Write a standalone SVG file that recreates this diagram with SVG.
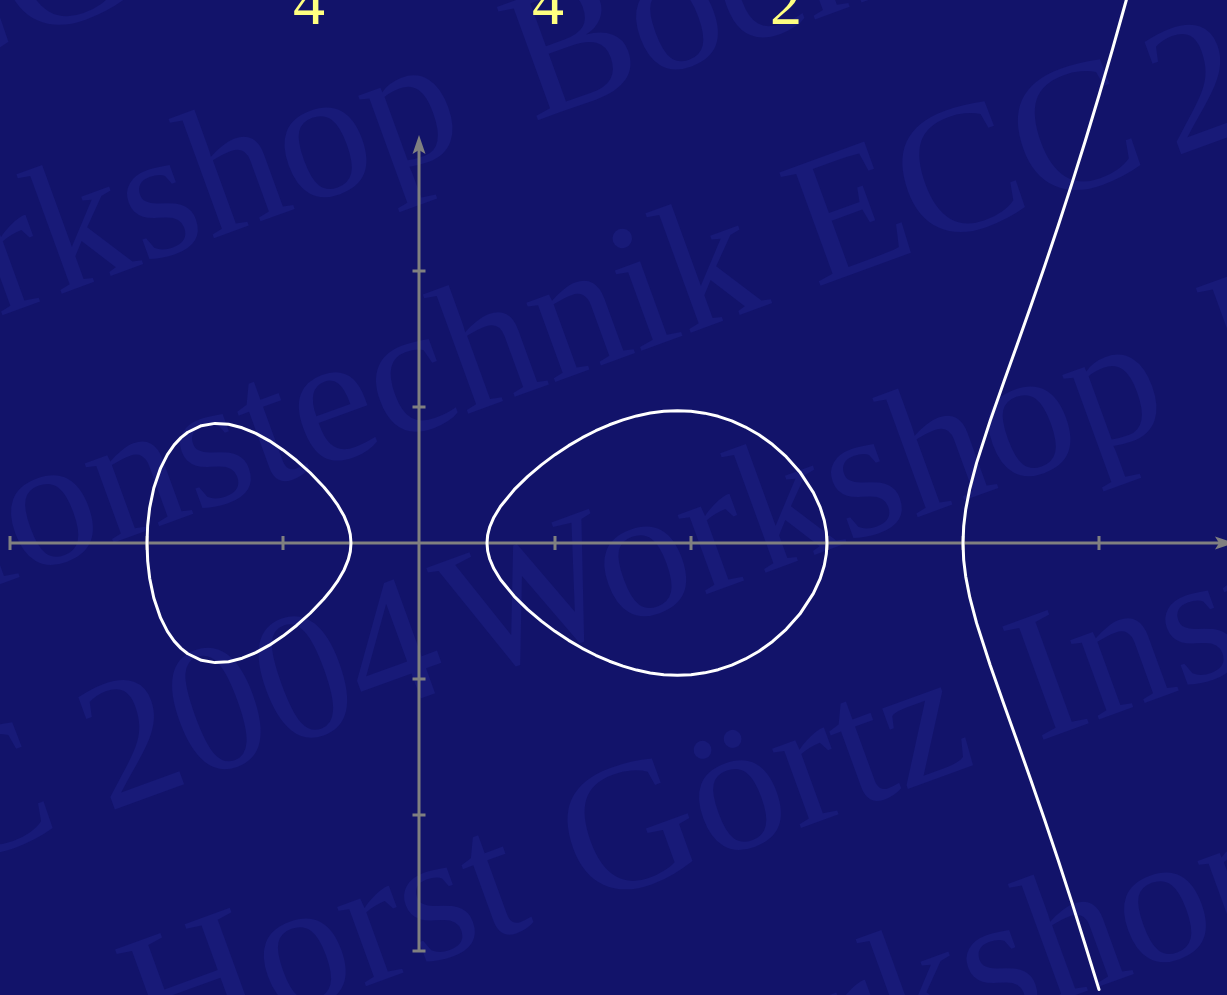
<svg xmlns="http://www.w3.org/2000/svg" width="1227" height="995" viewBox="0 0 1227 995">
  <style>
    .wm { font-family: "Liberation Serif", "Times New Roman", serif; font-size: 184px; fill: #181a78; }
    .axis { stroke: #808080; stroke-width: 3; fill: none; }
    .curve { stroke: #ffffff; stroke-width: 3; fill: none; stroke-linejoin: round; stroke-linecap: round; }
    .label { font-family: "Liberation Serif", "Times New Roman", serif; font-size: 64px; fill: #ffff80; }
  </style>
  <defs>
    <marker id="arrow" viewBox="-5 -8 21 16" markerWidth="21" markerHeight="16" refX="0" refY="0" orient="auto" markerUnits="userSpaceOnUse">
      <path d="M15,0 L-4,-6.5 L0,0 L-4,6.5 Z" fill="#808080"/>
    </marker>
  </defs>

  <rect id="background" x="0" y="0" width="1227" height="995" fill="#12136a"/>

  <g id="watermark" transform="rotate(-20)">
    <text class="wm" x="127" y="46" text-anchor="end">ECC</text>
    <text class="wm" x="-360" y="297">Workshop</text>
    <text class="wm" x="459" y="297">Bochum</text>
    <text class="wm" x="622" y="549" text-anchor="end">Informationstechnik</text>
    <text class="wm" x="668" y="549">ECC</text>
    <text class="wm" x="1049" y="549">2004</text>
    <text class="wm" x="-223" y="800" text-anchor="end">ECC</text>
    <text class="wm" x="-177" y="800">2004</text>
    <text class="wm" x="206" y="800">Workshop</text>
    <text class="wm" x="1020" y="800">Bochum</text>
    <text class="wm" x="-222" y="1052">Horst</text>
    <text class="wm" x="241" y="1052">Görtz</text>
    <text class="wm" x="721" y="1052">Institut</text>
    <text class="wm" x="167" y="1303">Workshop</text>
  </g>

  <g id="axes">
    <line class="axis" x1="10" y1="543" x2="1219" y2="543" marker-end="url(#arrow)"/>
    <line class="axis" x1="419" y1="951" x2="419" y2="150" marker-end="url(#arrow)"/>
    <path class="axis" d="M10,536V550 M147,536V550 M283,536V550 M555,536V550 M691,536V550 M827,536V550 M963,536V550 M1099,536V550"/>
    <path class="axis" d="M412.5,271H425.5 M412.5,407H425.5 M412.5,679H425.5 M412.5,815H425.5 M412.5,951H425.5"/>
  </g>

  <g id="curve">
    <path id="left-oval" class="curve" d="M149.72,578.55 Q144.28,543 149.72,507.45 L153.8,488.02 L160.6,468.06 L167.4,454.66 L174.2,444.9 L181,437.64 L187.8,432.26 L201.4,425.7 L215,423.39 L228.6,424.3 L242.2,427.77 L255.8,433.37 L269.4,440.81 L283,449.88 L296.6,460.52 L310.2,472.76 L323.8,487 L330.6,495.2 L337.4,504.61 L344.2,516.34 L348.28,526.34 Q353.72,543 348.28,559.66 L344.2,569.66 L337.4,581.39 L330.6,590.8 L323.8,599 L310.2,613.24 L296.6,625.48 L283,636.12 L269.4,645.19 L255.8,652.63 L242.2,658.23 L228.6,661.7 L215,662.61 L201.4,660.3 L187.8,653.74 L181,648.36 L174.2,641.1 L167.4,631.34 L160.6,617.94 L153.8,597.98 Z"/>
    <path id="middle-oval" class="curve" d="M489.72,526.99 L493.8,517.43 L500.6,506.27 L514.2,489.68 L527.8,476.34 L541.4,464.83 L555,454.67 L568.6,445.65 L582.2,437.68 L595.8,430.72 L609.4,424.76 L623,419.82 L636.6,415.92 L650.2,413.07 L663.8,411.33 L677.4,410.73 L691,411.32 L704.6,413.16 L718.2,416.33 L731.8,420.91 L745.4,427.01 L759,434.81 L772.6,444.55 L786.2,456.64 L799.8,471.91 L813.4,492.58 L820.2,507.37 L824.28,520.49 Q829.72,543 824.28,565.51 L820.2,578.63 L813.4,593.42 L799.8,614.09 L786.2,629.36 L772.6,641.45 L759,651.19 L745.4,658.99 L731.8,665.09 L718.2,669.67 L704.6,672.84 L691,674.68 L677.4,675.27 L663.8,674.67 L650.2,672.93 L636.6,670.08 L623,666.18 L609.4,661.24 L595.8,655.28 L582.2,648.32 L568.6,640.35 L555,631.33 L541.4,621.17 L527.8,609.66 L514.2,596.32 L500.6,579.73 L493.8,568.57 L489.72,559.01 Q484.28,543 489.72,526.99 Z"/>
    <path id="right-branch" class="curve" d="M1133,-24.4 L1126.2,0.48 L1112.6,48.83 L1099,95.47 L1085.4,140.46 L1071.8,183.85 L1058.2,225.75 L1044.6,266.27 L1031,305.61 L1017.4,344.03 L1003.8,382.05 L990.2,420.7 L976.6,462.86 L969.8,488.54 L965.72,509.39 Q960.28,543 965.72,576.61 L969.8,597.46 L976.6,623.14 L990.2,665.3 L1003.8,703.95 L1017.4,741.97 L1031,780.39 L1044.6,819.73 L1058.2,860.25 L1071.8,902.15 L1085.4,945.54 L1099,989.5"/>
  </g>

  <g id="labels">
    <text class="label" x="293" y="24">4</text>
    <text class="label" x="532" y="24">4</text>
    <text class="label" x="770" y="24">2</text>
  </g>
</svg>
